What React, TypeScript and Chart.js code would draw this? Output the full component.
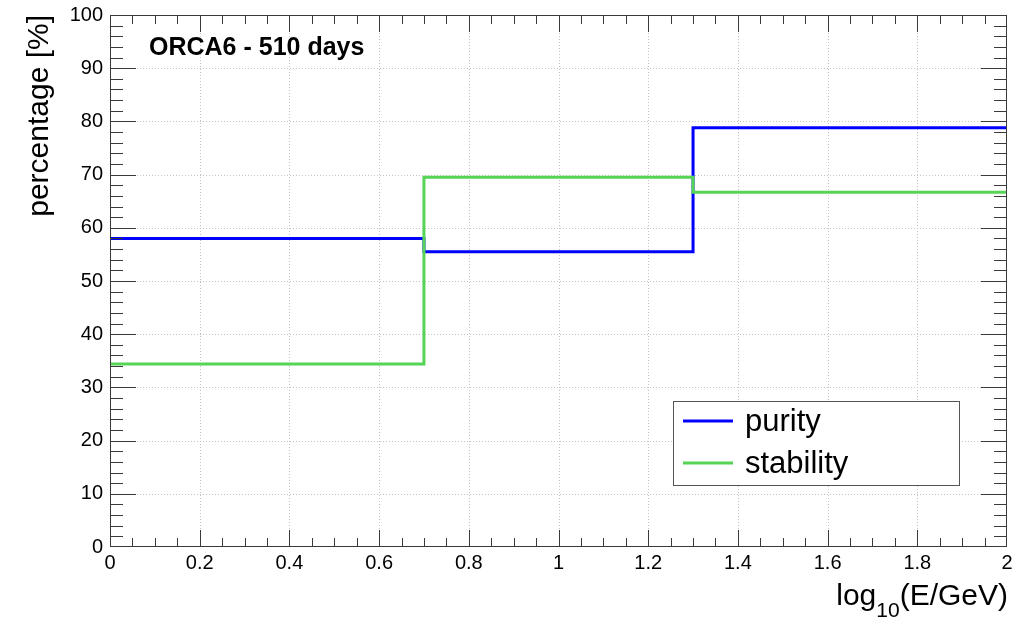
import { useEffect, useRef } from "react";
import { Chart, registerables } from "chart.js";

Chart.register(...registerables);

// Histogram bin edges in log10(E/GeV) and bin contents in percent
const binEdges = [0, 0.7, 1.3, 2];
const purity = [58.0, 55.5, 78.8];
const stability = [34.4, 69.5, 66.7];
const seriesLabels = ["purity", "stability"];
const seriesColors = ["#0000ff", "#55d455"];

const xTickLabels = ["0", "0.2", "0.4", "0.6", "0.8", "1", "1.2", "1.4", "1.6", "1.8", "2"];
const yTickLabels = ["0", "10", "20", "30", "40", "50", "60", "70", "80", "90", "100"];

const titleText = "ORCA6 - 510 days";
const yTitle = "percentage [%]";

const FONT = "'Liberation Sans', Arial, Helvetica, sans-serif";

// Turn bin contents into a step line: each edge carries the content of the
// bin that starts there (the last edge repeats the last bin); drawn with
// step-before so every bin is a horizontal run followed by the jump
function stepPoints(values: number[]) {
  return binEdges.map((x, i) => ({ x, y: values[Math.min(i, values.length - 1)] }));
}

const framePlugin = {
  id: "rootFrame",
  beforeDatasetsDraw(chart: any) {
    const { ctx, chartArea: a, scales } = chart;
    const xs = scales.x;
    const ys = scales.y;
    ctx.save();
    ctx.strokeStyle = "#c4c4c4";
    ctx.lineWidth = 1;
    ctx.setLineDash([1, 2]);
    for (let i = 1; i < xTickLabels.length - 1; i++) {
      const px = Math.round(xs.getPixelForValue(i * 0.2)) + 0.5;
      ctx.beginPath();
      ctx.moveTo(px, a.top);
      ctx.lineTo(px, a.bottom);
      ctx.stroke();
    }
    for (let j = 1; j < yTickLabels.length - 1; j++) {
      const py = Math.round(ys.getPixelForValue(j * 10)) + 0.5;
      ctx.beginPath();
      ctx.moveTo(a.left, py);
      ctx.lineTo(a.right, py);
      ctx.stroke();
    }
    ctx.restore();
  },
  afterDatasetsDraw(chart: any) {
    const { ctx, chartArea: a, scales } = chart;
    const xs = scales.x;
    const ys = scales.y;
    ctx.save();

    // frame
    ctx.strokeStyle = "#3a3a3a";
    ctx.lineWidth = 1;
    ctx.strokeRect(Math.round(a.left) + 0.5, Math.round(a.top) + 0.5,
      Math.round(a.right - a.left) - 1, Math.round(a.bottom - a.top) - 1);

    // inward ticks, major and minor, on all four sides
    ctx.beginPath();
    for (let i = 1; i < 40; i++) {
      const len = i % 4 === 0 ? 17 : 9;
      const px = Math.round(xs.getPixelForValue(i * 0.05)) + 0.5;
      ctx.moveTo(px, a.bottom);
      ctx.lineTo(px, a.bottom - len);
      ctx.moveTo(px, a.top);
      ctx.lineTo(px, a.top + len);
    }
    for (let j = 1; j < 50; j++) {
      const len = j % 5 === 0 ? 26 : 13;
      const py = Math.round(ys.getPixelForValue(j * 2)) + 0.5;
      ctx.moveTo(a.left, py);
      ctx.lineTo(a.left + len, py);
      ctx.moveTo(a.right, py);
      ctx.lineTo(a.right - len, py);
    }
    ctx.stroke();

    // title inside the frame
    ctx.fillStyle = "#000";
    ctx.font = `bold 25px ${FONT}`;
    ctx.textAlign = "left";
    ctx.textBaseline = "alphabetic";
    ctx.fillText(titleText, 149, 55);

    // y axis title, aligned to the top end of the axis
    ctx.save();
    ctx.translate(48, a.top);
    ctx.rotate(-Math.PI / 2);
    ctx.font = `30px ${FONT}`;
    ctx.textAlign = "right";
    ctx.fillText(yTitle, 0, 0);
    ctx.restore();

    // x axis title with subscript, aligned to the right end of the axis
    const big = `30px ${FONT}`;
    const small = `21px ${FONT}`;
    ctx.font = big;
    const w1 = ctx.measureText("log").width;
    const w3 = ctx.measureText("(E/GeV)").width;
    ctx.font = small;
    const w2 = ctx.measureText("10").width;
    let tx = a.right + 1 - (w1 + w2 + w3);
    ctx.textAlign = "left";
    ctx.font = big;
    ctx.fillText("log", tx, 605);
    tx += w1;
    ctx.font = small;
    ctx.fillText("10", tx, 617);
    tx += w2;
    ctx.font = big;
    ctx.fillText("(E/GeV)", tx, 605);

    // legend box
    ctx.fillStyle = "#fff";
    ctx.fillRect(673, 401, 286, 84);
    ctx.strokeStyle = "#555";
    ctx.strokeRect(673.5, 401.5, 286, 84);
    const rows = [421, 463];
    const bases = [431, 473];
    ctx.font = `31px ${FONT}`;
    seriesLabels.forEach((label, k) => {
      ctx.strokeStyle = seriesColors[k];
      ctx.lineWidth = 3;
      ctx.beginPath();
      ctx.moveTo(683, rows[k]);
      ctx.lineTo(733, rows[k]);
      ctx.stroke();
      ctx.fillStyle = "#000";
      ctx.fillText(label, 745, bases[k]);
    });

    ctx.restore();
  },
};

export default function App() {
  const canvasRef = useRef<HTMLCanvasElement | null>(null);

  useEffect(() => {
    document.body.style.margin = "0";
    const canvas = canvasRef.current;
    if (!canvas) return;
    const chart = new Chart(canvas, {
      type: "line",
      data: {
        datasets: [
          {
            label: seriesLabels[0],
            data: stepPoints(purity),
            borderColor: seriesColors[0],
            borderWidth: 3,
            stepped: "before",
            pointRadius: 0,
            fill: false,
            borderJoinStyle: "miter",
            borderCapStyle: "butt",
            order: 2,
          },
          {
            label: seriesLabels[1],
            data: stepPoints(stability),
            borderColor: seriesColors[1],
            borderWidth: 3,
            stepped: "before",
            pointRadius: 0,
            fill: false,
            borderJoinStyle: "miter",
            borderCapStyle: "butt",
            order: 1,
          },
        ],
      },
      options: {
        responsive: false,
        animation: false,
        layout: { padding: { top: 15, right: 28, left: 0, bottom: 0 } },
        plugins: {
          legend: { display: false },
          tooltip: { enabled: false },
        },
        scales: {
          x: {
            type: "linear",
            min: 0,
            max: 2,
            grid: { display: false, drawTicks: false },
            border: { display: false },
            ticks: {
              stepSize: 0.2,
              padding: 4,
              color: "#000",
              font: { family: FONT, size: 20 },
              maxRotation: 0,
              autoSkip: false,
              callback: (_v: any, i: number) => xTickLabels[i],
            },
            afterFit: (s: any) => {
              s.height = 73;
              s.paddingLeft = 0;
              s.paddingRight = 0;
            },
          },
          y: {
            type: "linear",
            min: 0,
            max: 100,
            grid: { display: false, drawTicks: false },
            border: { display: false },
            ticks: {
              stepSize: 10,
              padding: 7,
              color: "#000",
              font: { family: FONT, size: 20 },
              autoSkip: false,
              callback: (_v: any, i: number) => yTickLabels[i],
            },
            afterFit: (s: any) => {
              s.width = 110;
              s.paddingTop = 0;
              s.paddingBottom = 0;
            },
          },
        },
      },
      plugins: [framePlugin],
    });
    return () => chart.destroy();
  }, []);

  return (
    <div style={{ width: 1035, height: 620, background: "#fff" }}>
      <canvas ref={canvasRef} width={1035} height={620} />
    </div>
  );
}
